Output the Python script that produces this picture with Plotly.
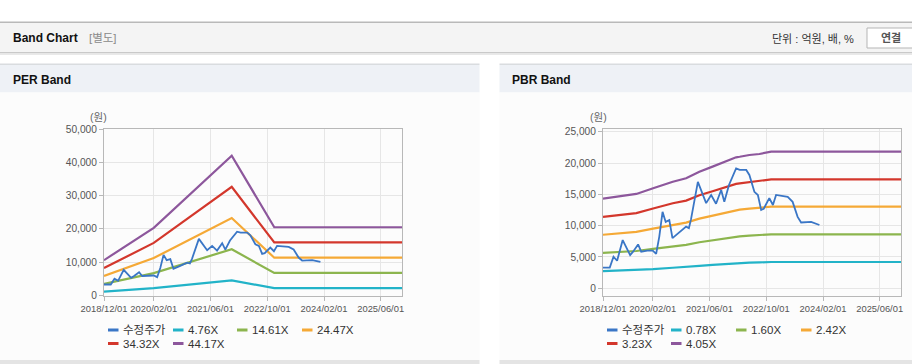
import plotly.graph_objects as go

W, H = 912, 364

# ---------------- data ----------------
price_dates = ["2018-12-01", "2019-01-28", "2019-03-01", "2019-04-01", "2019-05-19", "2019-07-22",
               "2019-08-16", "2019-09-28", "2019-10-25", "2019-12-16", "2020-02-01", "2020-03-01",
               "2020-03-28", "2020-04-25", "2020-05-22", "2020-06-22", "2020-07-19", "2020-09-15",
               "2020-11-13", "2020-12-07", "2020-12-25", "2021-02-22", "2021-03-22", "2021-05-04",
               "2021-06-16", "2021-07-28", "2021-09-10", "2021-10-07", "2021-11-16", "2022-01-16",
               "2022-02-16", "2022-04-13", "2022-05-10", "2022-06-22", "2022-07-22", "2022-08-19",
               "2022-09-10", "2022-10-28", "2022-11-28", "2022-12-25", "2023-04-04", "2023-05-16",
               "2023-06-28", "2023-07-28", "2023-10-22", "2024-01-01"]
price = [3300, 3300, 5050, 4400, 7700, 5300,
         5850, 7000, 5850, 6000, 6000, 5500,
         8250, 12200, 10600, 10900, 8000, 8900,
         9840, 9600, 11000, 17000, 15700, 13600,
         14900, 13500, 15700, 13800, 16500, 19150,
         18900, 18900, 18100, 15400, 14900, 12500,
         12700, 14400, 13300, 14900, 14600, 13800,
         11400, 10500, 10600, 10100]

per_multiples = [4.76, 14.61, 24.47, 34.32, 44.17]
per_labels = ["4.76X", "14.61X", "24.47X", "34.32X", "44.17X"]
eps_dates = ["2018-12-01", "2020-02-01", "2021-12-01", "2022-12-01", "2025-12-01"]
eps = [240, 460, 951, 464, 464]

pbr_multiples = [0.78, 1.60, 2.42, 3.23, 4.05]
pbr_labels = ["0.78X", "1.60X", "2.42X", "3.23X", "4.05X"]
bps_dates = ["2018-12-01", "2019-09-13", "2020-02-04", "2020-07-22", "2020-11-13", "2021-03-07",
             "2021-06-28", "2021-10-22", "2022-01-16", "2022-02-16", "2022-05-10", "2022-08-04",
             "2022-11-13", "2025-12-01"]
bps = [3533, 3719, 3941, 4202, 4336, 4598,
       4795, 5017, 5163, 5185, 5254, 5294,
       5385, 5385]

tick_dates = ["2018-12-01", "2020-02-01", "2021-06-01", "2022-10-01", "2024-02-01", "2025-06-01"]
tick_labels = ["2018/12/01", "2020/02/01", "2021/06/01", "2022/10/01", "2024/02/01", "2025/06/01"]
price_name = "수정주가"

# ---------------- style ----------------
price_color = "#3a76c6"
band_colors = ["#22b3c8", "#8cb54e", "#f5a936", "#d3372c", "#8d579c"]
FONT = "Liberation Sans, Arial, Noto Sans CJK KR, sans-serif"


def X(px):
    return px / W


def Y(py):
    return 1 - py / H


fig = go.Figure()

# PER traces
for m, lab, col in zip(per_multiples, per_labels, band_colors):
    fig.add_trace(go.Scatter(x=eps_dates, y=[m * v for v in eps], mode="lines", name=lab,
                             line=dict(color=col, width=2.2), xaxis="x", yaxis="y",
                             showlegend=False, hoverinfo="skip"))
fig.add_trace(go.Scatter(x=price_dates, y=price, mode="lines", name=price_name,
                         line=dict(color=price_color, width=1.8), xaxis="x", yaxis="y",
                         showlegend=False))

# PBR traces
for m, lab, col in zip(pbr_multiples, pbr_labels, band_colors):
    fig.add_trace(go.Scatter(x=bps_dates, y=[m * v for v in bps], mode="lines", name=lab,
                             line=dict(color=col, width=2.2), xaxis="x2", yaxis="y2",
                             showlegend=False, hoverinfo="skip"))
fig.add_trace(go.Scatter(x=price_dates, y=price, mode="lines", name=price_name,
                         line=dict(color=price_color, width=1.8), xaxis="x2", yaxis="y2",
                         showlegend=False))

axis_common = dict(showgrid=True, gridcolor="#e6e6e6", gridwidth=1, showline=True,
                   linecolor="#b8b8b8", linewidth=1, mirror=True, ticks="outside",
                   ticklen=4, tickcolor="#b8b8b8", zeroline=False, automargin=False)
xcommon = dict(axis_common, type="date", range=["2018-12-01", "2025-12-01"],
               tickvals=tick_dates, ticktext=tick_labels,
               tickfont=dict(family=FONT, size=9.4, color="#555555"))
ycommon = dict(axis_common, tickformat=",d",
               tickfont=dict(family=FONT, size=10.2, color="#555555"))

fig.update_layout(
    template="none",
    width=W, height=H,
    margin=dict(l=0, r=0, t=0, b=0, pad=0, autoexpand=False),
    paper_bgcolor="#ffffff", plot_bgcolor="#ffffff",
    font=dict(family=FONT, size=11, color="#333333"),
    showlegend=False,
    xaxis=dict(xcommon, domain=[X(104), X(402)], anchor="y"),
    yaxis=dict(ycommon, domain=[Y(295.5), Y(129)], range=[0, 50000], dtick=10000, anchor="x"),
    xaxis2=dict(xcommon, domain=[X(603), X(901)], anchor="y2"),
    yaxis2=dict(ycommon, domain=[Y(295.5), Y(129)], range=[-1150, 25430], dtick=5000,
                tick0=0, anchor="x2"),
)

shapes = []


def rect(x0, y0, x1, y1, fill, line=None, lw=0):
    shapes.append(dict(type="rect", xref="paper", yref="paper", x0=X(x0), x1=X(x1),
                       y0=Y(y1), y1=Y(y0), fillcolor=fill, layer="below",
                       line=dict(color=line or fill, width=lw)))


# header
rect(0, 21.5, 912, 23, "#b9b9b9")
rect(0, 23, 912, 52, "#f4f4f4")
rect(0, 52, 912, 53.5, "#c9c9c9")
rect(0, 53.5, 912, 55, "#e9e9e9")
# panel title bars
for x0, x1 in [(0, 479.5), (499.5, 912)]:
    rect(x0, 63.5, x1, 65, "#d9dcdf")
    rect(x0, 65, x1, 92.5, "#eef1f6")
    rect(x0, 92.5, x1, 360, "#fcfcfc")
    rect(x0, 360, x1, 364, "#e4e4e4")
# button
shapes.append(dict(type="rect", xref="paper", yref="paper", x0=X(867), x1=X(915),
                   y0=Y(48), y1=Y(28), fillcolor="#ffffff",
                   line=dict(color="#b5b5b5", width=1), layer="above"))

annotations = []


def text(x, y, s, size=11, color="#333333", bold=False, anchor="left"):
    if bold:
        s = "<b>" + s + "</b>"
    annotations.append(dict(x=X(x), y=Y(y), xref="paper", yref="paper", text=s,
                            showarrow=False, xanchor=anchor, yanchor="middle",
                            font=dict(family=FONT, size=size, color=color)))


text(11, 38.5, "Band Chart", 12, "#111111", True)
text(87, 38.5, "[별도]", 11.5, "#8a8a8a")
text(770, 39, "단위 : 억원, 배, %", 11, "#333333")
text(891, 38.5, "연결", 11, "#555555", True, "center")
text(11, 80, "PER Band", 12, "#111111", True)
text(510, 80, "PBR Band", 12, "#111111", True)
text(98, 117.5, "(원)", 10.5, "#666666", anchor="center")
text(598, 117.5, "(원)", 10.5, "#666666", anchor="center")


def legend(entries):
    for (lx, ly, name, col) in entries:
        shapes.append(dict(type="line", xref="paper", yref="paper", x0=X(lx), x1=X(lx + 10.5),
                           y0=Y(ly), y1=Y(ly), line=dict(color=col, width=3)))
        text(lx + 13, ly, name, 11.5, "#333333")


legend([(108, 330, price_name, price_color),
        (173, 330, per_labels[0], band_colors[0]),
        (237, 330, per_labels[1], band_colors[1]),
        (302, 330, per_labels[2], band_colors[2]),
        (108, 343.5, per_labels[3], band_colors[3]),
        (173, 343.5, per_labels[4], band_colors[4])])
legend([(607, 330, price_name, price_color),
        (671, 330, pbr_labels[0], band_colors[0]),
        (736, 330, pbr_labels[1], band_colors[1]),
        (801, 330, pbr_labels[2], band_colors[2]),
        (607, 343.5, pbr_labels[3], band_colors[3]),
        (671, 343.5, pbr_labels[4], band_colors[4])])

fig.update_layout(shapes=shapes, annotations=annotations)
fig.write_html("out.html",
               config={"displayModeBar": False},
               post_script="document.body.style.margin='0px';"
                           "document.body.style.overflow='hidden';")
